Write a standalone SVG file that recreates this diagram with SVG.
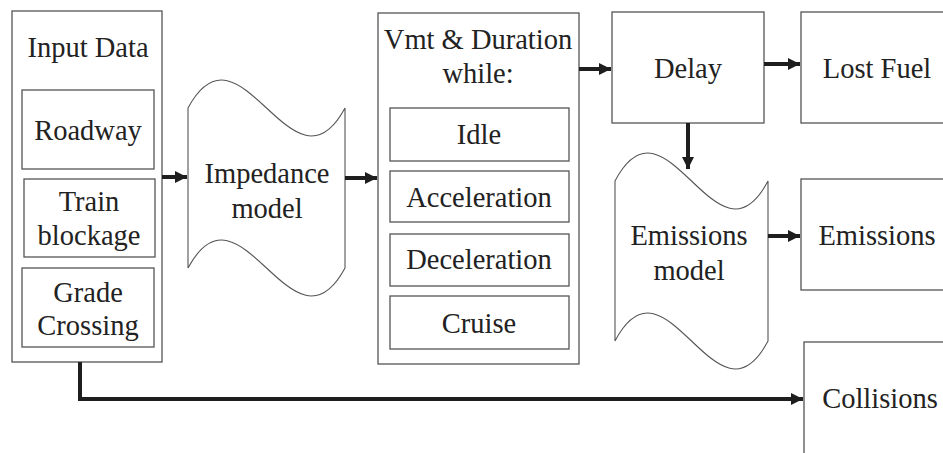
<svg xmlns="http://www.w3.org/2000/svg" width="943" height="453" viewBox="0 0 943 453">
<defs>
<marker id="ah" markerUnits="userSpaceOnUse" markerWidth="13" markerHeight="12" refX="12" refY="6" orient="auto">
<path d="M0,0 L12,6 L0,12 z" fill="#1e1e1e"/>
</marker>
<style>
.box{fill:#fff;stroke:#555;stroke-width:1.3}
.tape{fill:#fff;stroke:#555;stroke-width:1.1}
.con{fill:none;stroke:#1e1e1e;stroke-width:4;marker-end:url(#ah)}
</style>
</defs>
<rect width="943" height="453" fill="#fff"/>
<g font-family="'Liberation Serif', serif" font-size="28.5" fill="#222" text-anchor="middle">
<g id="input-data">
<rect class="box" x="12" y="11" width="150" height="351"/>
<text x="88" y="57">Input Data</text>
</g>
<g id="roadway">
<rect class="box" x="22" y="90" width="132" height="79"/>
<text x="88" y="140">Roadway</text>
</g>
<g id="train-blockage">
<rect class="box" x="24" y="179" width="131" height="78"/>
<text x="89" y="211">Train</text>
<text x="89" y="245">blockage</text>
</g>
<g id="grade-crossing">
<rect class="box" x="22" y="268" width="132" height="79"/>
<text x="88" y="302">Grade</text>
<text x="88" y="335">Crossing</text>
</g>
<g id="impedance-model">
<path class="tape" d="M188,108 C240.3,11 292.7,205 345,108 L345,268 C292.7,365 240.3,171 188,268 Z"/>
<text x="267" y="183">Impedance</text>
<text x="267" y="218">model</text>
</g>
<g id="vmt-duration">
<rect class="box" x="378" y="13" width="201" height="351"/>
<text x="478" y="49">Vmt &amp; Duration</text>
<text x="478" y="83">while:</text>
</g>
<g id="idle">
<rect class="box" x="390" y="108" width="179" height="53"/>
<text x="479" y="144">Idle</text>
</g>
<g id="acceleration">
<rect class="box" x="390" y="171" width="179" height="51"/>
<text x="479" y="207">Acceleration</text>
</g>
<g id="deceleration">
<rect class="box" x="390" y="234" width="179" height="52"/>
<text x="479" y="269">Deceleration</text>
</g>
<g id="cruise">
<rect class="box" x="390" y="296" width="179" height="53"/>
<text x="479" y="333">Cruise</text>
</g>
<g id="delay">
<rect class="box" x="612" y="12" width="152" height="111"/>
<text x="688" y="78">Delay</text>
</g>
<g id="lost-fuel">
<rect class="box" x="801" y="12" width="160" height="111"/>
<text x="877" y="78">Lost Fuel</text>
</g>
<g id="emissions-model">
<path class="tape" d="M615,181 C666,84 717,278 768,181 L768,341 C717,438 666,244 615,341 Z"/>
<text x="689" y="245">Emissions</text>
<text x="689" y="280">model</text>
</g>
<g id="emissions">
<rect class="box" x="801" y="179" width="160" height="111"/>
<text x="877" y="245">Emissions</text>
</g>
<g id="collisions">
<rect class="box" x="804" y="342" width="160" height="130"/>
<text x="880" y="408">Collisions</text>
</g>
</g>
<g id="connectors">
<line class="con" x1="162" y1="177" x2="187" y2="177"/>
<line class="con" x1="345" y1="178" x2="377" y2="178"/>
<line class="con" x1="579" y1="69" x2="611" y2="69"/>
<line class="con" x1="764" y1="64" x2="800" y2="64"/>
<line class="con" x1="688" y1="123" x2="688" y2="169"/>
<line class="con" x1="768" y1="236" x2="800" y2="236"/>
<path class="con" d="M80,362 L80,399 L803,399"/>
</g>
</svg>
